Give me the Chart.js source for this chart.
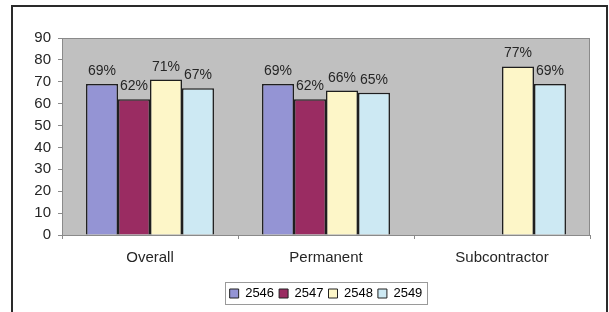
<!DOCTYPE html>
<html><head><meta charset="utf-8">
<script src="https://cdn.jsdelivr.net/npm/chart.js@4"></script>
<style>html,body{margin:0;padding:0;background:#fff}#wrap{width:609px;height:312px}</style>
</head><body><div id="wrap"><canvas id="c" width="609" height="312"></canvas></div>
<script>
const categories = ["Overall", "Permanent", "Subcontractor"];
const seriesNames = ["2546", "2547", "2548", "2549"];
const v2546 = [69, 69, null];
const v2547 = [62, 62, null];
const v2548 = [71, 66, 77];
const v2549 = [67, 65, 69];
const yTicks = [0, 10, 20, 30, 40, 50, 60, 70, 80, 90];
const colors = ["#9494d4", "#9a2c62", "#fdf6c8", "#cde9f3"];
const FONT = "'Liberation Sans', Arial, sans-serif";
const LEGEND_SHIFT = 31;

const frame = {
  id: 'frame',
  afterUpdate(chart) {
    const lg = chart.legend;
    lg.left += LEGEND_SHIFT; lg.right += LEGEND_SHIFT;
  },
  beforeDraw(chart) {
    const {ctx, chartArea: a} = chart;
    ctx.save();
    ctx.fillStyle = '#fff';
    ctx.fillRect(0, 0, chart.width, chart.height);
    ctx.strokeStyle = '#2a2a2a';
    ctx.lineWidth = 2;
    ctx.strokeRect(12, 6, 595, 330);
    ctx.fillStyle = '#c0c0c0';
    ctx.fillRect(a.left, a.top, a.right - a.left, a.bottom - a.top);
    ctx.strokeStyle = '#8a8a8a';
    ctx.lineWidth = 1;
    ctx.strokeRect(a.left + 0.5, a.top + 0.5, a.right - a.left - 1, a.bottom - a.top);
    ctx.restore();
  },
  afterDraw(chart) {
    const {ctx} = chart;
    ctx.save();
    ctx.font = "14px " + FONT;
    ctx.fillStyle = '#262626';
    ctx.textAlign = 'center';
    ctx.textBaseline = 'alphabetic';
    chart.data.datasets.forEach((ds, i) => {
      const meta = chart.getDatasetMeta(i);
      meta.data.forEach((bar, j) => {
        const v = ds.data[j];
        if (v == null) return;
        ctx.fillText(v + '%', bar.x, bar.y - 9);
      });
    });
    const lg = chart.legend;
    if (lg && lg.lineWidths) {
      const pad = lg.options.labels.padding;
      const lw = lg.lineWidths[0];
      const x0 = (lg.left + pad + lg.right - lw) / 2;
      const l = x0 - 5, r = x0 + lw - pad + 4;
      const t = lg.top + pad - 5, b = lg.top + pad + 13 + 4;
      ctx.strokeStyle = '#9a9a9a';
      ctx.lineWidth = 1;
      ctx.strokeRect(Math.round(l) + 0.5, Math.round(t) + 0.5, Math.round(r - l), Math.round(b - t));
    }
    ctx.restore();
  }
};

new Chart(document.getElementById('c'), {
  type: 'bar',
  data: {
    labels: categories,
    datasets: seriesNames.map((n, i) => ({
      label: n,
      data: [v2546, v2547, v2548, v2549][i],
      backgroundColor: colors[i],
      borderColor: '#1e1e1e',
      borderWidth: 1.5,
      categoryPercentage: 0.727,
      barPercentage: 1.0
    }))
  },
  options: {
    responsive: false,
    animation: false,
    devicePixelRatio: 1,
    layout: {padding: {top: 38, right: 19, bottom: 2, left: 0}},
    scales: {
      x: {
        grid: {display: true, drawOnChartArea: false, offset: true, color: '#8a8a8a', tickLength: 4},
        border: {display: true, color: '#8a8a8a'},
        ticks: {font: {family: FONT, size: 15}, color: '#262626', padding: 10},
        afterFit(s) { s.height = 47; }
      },
      y: {
        min: 0, max: 90,
        ticks: {stepSize: 10, font: {family: FONT, size: 15}, color: '#262626', padding: 7,
          callback: (v) => yTicks.includes(v) ? String(v) : ''},
        grid: {display: true, drawOnChartArea: false, color: '#8a8a8a', tickLength: 4},
        border: {display: true, color: '#8a8a8a'},
        afterFit(s) { s.width = 62; }
      }
    },
    plugins: {
      legend: {
        position: 'bottom',
        labels: {
          font: {family: FONT, size: 13}, color: '#262626',
          boxWidth: 9, boxHeight: 9, padding: 5,
          generateLabels(chart) {
            return chart.data.datasets.map((ds, i) => ({
              text: ds.label, fillStyle: ds.backgroundColor, strokeStyle: '#222',
              lineWidth: 1, datasetIndex: i, hidden: false
            }));
          }
        }
      },
      tooltip: {enabled: false}
    }
  },
  plugins: [frame]
});
</script></body></html>
